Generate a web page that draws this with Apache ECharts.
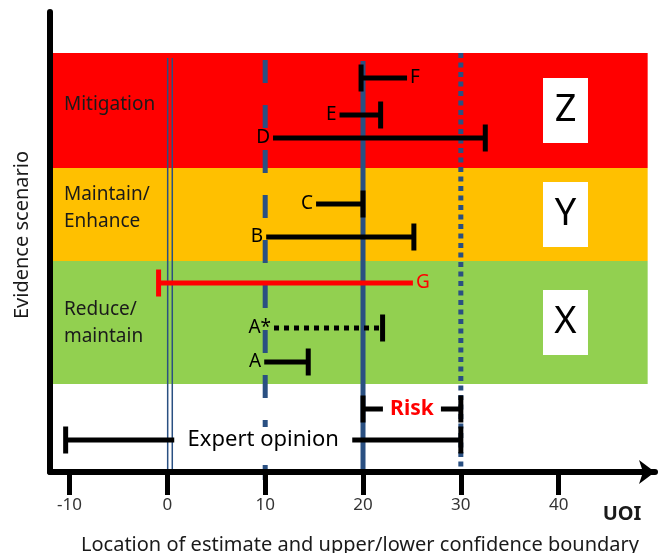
<!DOCTYPE html>
<html lang="en">
<head>
<meta charset="UTF-8">
<title>Evidence scenario</title>
<script src="https://cdn.jsdelivr.net/npm/echarts@6/dist/echarts.min.js"></script>
<style>
    html, body { margin: 0; padding: 0; background: #fff; }
    #chart { width: 663px; height: 553px; }
</style>
</head>
<body>
<div id="chart"></div>
<script>
// estimates and confidence boundaries, one row per line on the chart
var rows = ['F', 'E', 'D', 'C', 'B', 'G', 'A*', 'A', 'Risk', 'Expert opinion'];
var rowPos = [39.4, 35.7, 33.4, 26.8, 23.5, 18.9, 14.4, 11.0, 6.3, 3.2];
var lowerBound = [19.8, 17.6, 10.8, 15.2, 10.1, -0.9, 10.9, 9.9, 20, -10.4];
var upperBound = [24.5, 21.8, 32.5, 20.0, 25.2, 25.1, 22.0, 14.4, 30, 30];
var capAt = ['lower', 'upper', 'upper', 'upper', 'upper', 'lower', 'upper', 'upper', 'both', 'both'];
var labelAt = ['right', 'left', 'left', 'left', 'left', 'right', 'left', 'left', 'middle', 'middle'];

// evidence scenario bands
var scenarios = ['Mitigation', 'Maintain/\nEnhance', 'Reduce/\nmaintain'];
var scenarioCode = ['Z', 'Y', 'X'];
var scenarioTop = [41.9, 30.4, 21.1];
var scenarioBottom = [30.4, 21.1, 8.8];
var scenarioLabelPos = [36.7, 26.35, 14.9];
var bandStart = -11.7, bandEnd = 49.1;
var codeBox = [38.4, 43.0];

// reference lines (UOI thresholds)
var refValues = [0, 10, 20, 30];
var refTop = [41.4, 41.2, 41.1, 41.9];
var refBottom = [0, -0.8, 0, 0];
var refKind = ['double', 'dashed', 'solid', 'dotted'];

var tickValues = [-10, 0, 10, 20, 30, 40];

var xMin = -12, xMax = 49.85;
var font = 'Noto Sans';
var navy = '#2A5082';
var bandColor = ['#FF0000', '#FFC000', '#92D050'];

var myChart = echarts.init(document.getElementById('chart'));

function renderBand(params, api) {
    var i = params.dataIndex;
    var p0 = api.coord([bandStart, scenarioTop[i]]);
    var p1 = api.coord([bandEnd, scenarioBottom[i]]);
    var mid = (scenarioTop[i] + scenarioBottom[i]) / 2;
    var b0 = api.coord([codeBox[0], mid + 3.25]);
    var b1 = api.coord([codeBox[1], mid - 3.25]);
    var lp = api.coord([bandStart, scenarioLabelPos[i]]);
    return {
        type: 'group',
        children: [
            {type: 'rect', shape: {x: p0[0], y: p0[1], width: p1[0] - p0[0], height: p1[1] - p0[1]},
                style: {fill: bandColor[i]}},
            {type: 'text', x: lp[0] + 11, y: lp[1],
                style: {text: scenarios[i], font: '19px "' + font + '"', fill: '#1a1a1a',
                    verticalAlign: 'middle', lineHeight: 27}},
            {type: 'rect', shape: {x: b0[0], y: b0[1], width: b1[0] - b0[0], height: b1[1] - b0[1]},
                style: {fill: '#fff'}},
            {type: 'text', x: (b0[0] + b1[0]) / 2, y: (b0[1] + b1[1]) / 2,
                style: {text: scenarioCode[i], font: '38px "' + font + '"', fill: '#000',
                    align: 'center', verticalAlign: 'middle'}}
        ]
    };
}

function renderRef(params, api) {
    var i = params.dataIndex;
    var p0 = api.coord([refValues[i], refTop[i]]);
    var p1 = api.coord([refValues[i], refBottom[i]]);
    var kids = [];
    if (refKind[i] === 'double') {
        [0.3, 4.9].forEach(function (d) {
            kids.push({type: 'line', shape: {x1: p0[0] + d, y1: p0[1], x2: p1[0] + d, y2: p1[1]},
                style: {stroke: navy, lineWidth: 1.5}});
        });
    } else {
        var st = {stroke: navy, lineWidth: 5};
        if (refKind[i] === 'dashed') st.lineDash = [23, 22];
        if (refKind[i] === 'dotted') st.lineDash = [5, 4.5];
        kids.push({type: 'line', shape: {x1: p0[0], y1: p0[1], x2: p1[0], y2: p1[1]}, style: st});
    }
    return {type: 'group', children: kids};
}

function seg(x1, x2, y, color, dash) {
    var st = {stroke: color, lineWidth: 5};
    if (dash) st.lineDash = dash;
    return {type: 'line', shape: {x1: x1, y1: y, x2: x2, y2: y}, style: st};
}

function renderBar(params, api) {
    var i = params.dataIndex;
    var name = rows[i];
    var a = api.coord([lowerBound[i], rowPos[i]]);
    var b = api.coord([upperBound[i], rowPos[i]]);
    var y = a[1];
    var red = (name === 'G' || name === 'Risk');
    var color = name === 'G' ? '#FF0000' : '#000';
    var kids = [];
    var cap = 13.5;
    var st = {text: name, font: '19px "' + font + '"', fill: red ? '#FF0000' : '#000', verticalAlign: 'middle'};
    var lx;
    if (labelAt[i] === 'middle') {
        // label sits in a gap in the middle of the interval
        lx = (a[0] + b[0]) / 2;
        var gap = name === 'Risk' ? 29 : 89;
        if (name === 'Risk') st.font = 'bold 21px "' + font + '"';
        else st.font = '22px "' + font + '"';
        st.align = 'center';
        kids.push({type: 'rect', shape: {x: lx - gap, y: y - 13, width: gap * 2, height: 26}, style: {fill: '#fff'}});
        kids.push(seg(a[0], lx - gap, y, color));
        kids.push(seg(lx + gap, b[0], y, color));
    } else {
        kids.push(seg(a[0], b[0], y, color, name === 'A*' ? [5, 5] : null));
        if (labelAt[i] === 'left') {
            lx = a[0] - 3; st.align = 'right';
        } else {
            lx = b[0] + 3; st.align = 'left';
        }
    }
    if (capAt[i] === 'lower' || capAt[i] === 'both') {
        kids.push({type: 'line', shape: {x1: a[0], y1: y - cap, x2: a[0], y2: y + cap},
            style: {stroke: color, lineWidth: 5}});
    }
    if (capAt[i] === 'upper' || capAt[i] === 'both') {
        kids.push({type: 'line', shape: {x1: b[0], y1: y - cap, x2: b[0], y2: y + cap},
            style: {stroke: color, lineWidth: 5}});
    }
    kids.push({type: 'text', x: lx, y: y, style: st});
    return {type: 'group', children: kids};
}

var option = {
    backgroundColor: '#fff',
    animation: false,
    grid: {left: 50, right: 8, top: 12, bottom: 81},
    xAxis: {
        type: 'value', min: xMin, max: xMax, zlevel: 1,
        axisLine: {show: true, onZero: false, symbol: ['none', 'arrow'], symbolSize: [18, 16],
            lineStyle: {color: '#000', width: 6}},
        axisTick: {show: true, customValues: tickValues, length: 23, lineStyle: {color: '#000', width: 5}},
        axisLabel: {customValues: tickValues, fontSize: 17, fontFamily: font, color: '#333', margin: 25},
        splitLine: {show: false}
    },
    yAxis: {
        type: 'value', min: 0, max: 46, zlevel: 1,
        axisLine: {show: true, onZero: false, lineStyle: {color: '#000', width: 6}},
        axisTick: {show: false},
        axisLabel: {show: false},
        splitLine: {show: false}
    },
    graphic: [
        {type: 'text', x: 22, y: 235, rotation: Math.PI / 2,
            style: {text: 'Evidence scenario', font: '20px "' + font + '"', fill: '#1a1a1a',
                align: 'center', verticalAlign: 'middle'}},
        {type: 'text', x: 360, y: 545,
            style: {text: 'Location of estimate and upper/lower confidence boundary', font: '20px "' + font + '"',
                fill: '#1a1a1a', align: 'center', verticalAlign: 'middle'}},
        {type: 'text', x: 622, y: 514,
            style: {text: 'UOI', font: 'bold 20px "' + font + '"', fill: '#1a1a1a',
                align: 'center', verticalAlign: 'middle'}}
    ],
    series: [
        {
            type: 'custom', z: 1, silent: true,
            renderItem: renderBand,
            encode: {x: [0, 1], y: [2, 3]},
            data: scenarios.map(function (s, i) { return [bandStart, bandEnd, scenarioTop[i], scenarioBottom[i]]; })
        },
        {
            type: 'custom', z: 6, silent: true,
            renderItem: renderRef,
            encode: {x: 0, y: [1, 2]},
            data: refValues.map(function (v, i) { return [v, refTop[i], refBottom[i]]; })
        },
        {
            type: 'custom', z: 7, silent: true,
            renderItem: renderBar,
            encode: {x: [0, 1], y: 2},
            data: rows.map(function (r, i) { return [lowerBound[i], upperBound[i], rowPos[i]]; })
        }
    ]
};
myChart.setOption(option);
</script>
</body>
</html>
